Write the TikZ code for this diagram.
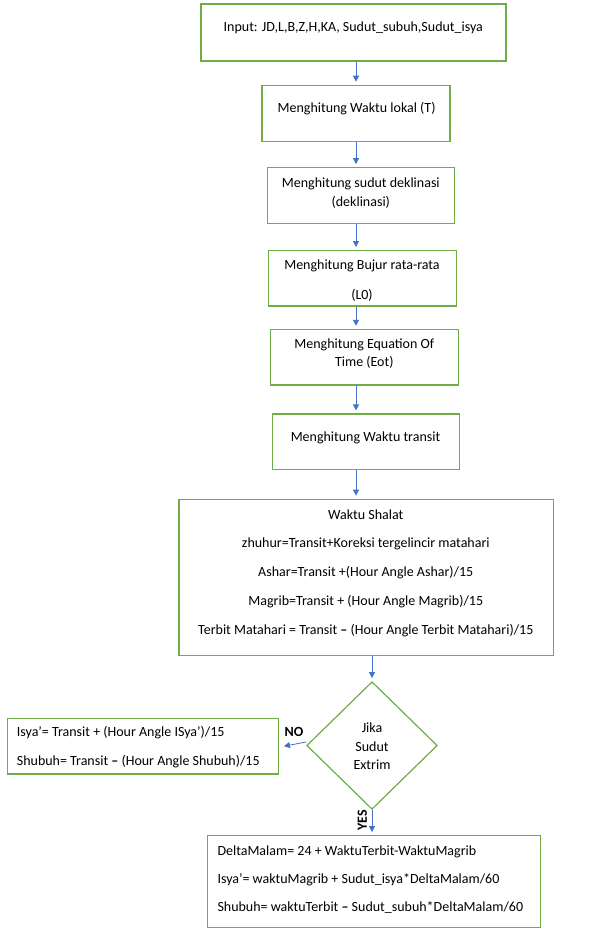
\documentclass[tikz,border=0pt]{standalone}
\usepackage{fontspec}
\setmainfont{Carlito}
\usetikzlibrary{shapes.geometric,arrows.meta}
\definecolor{boxgreen}{HTML}{70AD47}
\definecolor{arrowblue}{HTML}{4472C4}

\begin{document}
\begin{tikzpicture}[x=1pt,y=-1pt,
	box/.style={draw=boxgreen, line width=1.2pt, inner sep=0pt},
	txt/.style={anchor=base, inner sep=0pt, align=center, font=\fontsize{14}{#1}\selectfont},
	txt/.default=19,
	arr/.style={draw=arrowblue, line width=0.8pt, shorten >=3pt, -{Triangle[length=6pt,width=6pt]}}]
\fill[white] (0,0) rectangle (596,941);
\useasboundingbox (0,0) rectangle (596,941);
% boxes
\node [box, minimum width=305pt, minimum height=57pt] (a) at (353.5,32.5) {};
\node [box, minimum width=188pt, minimum height=56pt] (b) at (356,113.3) {};
\node [box, minimum width=187pt, minimum height=55.6pt] (c) at (360.8,195.5) {};
\node [box, minimum width=188.4pt, minimum height=55.3pt] (d) at (362.5,278.3) {};
\node [box, minimum width=187.6pt, minimum height=55.7pt] (e) at (364.5,357.2) {};
\node [box, minimum width=187pt, minimum height=55.3pt] (f) at (365.8,441.7) {};
\node [box, minimum width=374.3pt, minimum height=156.4pt] (g) at (366.2,577.5) {};
\node [box, diamond, minimum width=130.6pt, minimum height=127.6pt] (k) at (372,745.5) {};
\node [box, minimum width=271.4pt, minimum height=55.7pt] (i) at (143,746.2) {};
\node [box, minimum width=333.4pt, minimum height=91.6pt] (h) at (374,881.5) {};
% texts (base = last line)
\node [txt] (ta) at (353.3,31.7) {Input: JD,L,B,Z,H,KA, Sudut\_subuh,Sudut\_isya};
\node [txt] (tb) at (356.6,112.7) {Menghitung Waktu lokal (T)};
\node [txt=19] (tc) at (360.8,206.7) {Menghitung sudut deklinasi\\(deklinasi)};
\node [txt=29.7] (td) at (362,299) {Menghitung Bujur rata-rata\\(L0)};
\node [txt=18.4] (te) at (364.3,366.7) {Menghitung Equation Of\\Time (Eot)};
\node [txt] (tf) at (365.5,441) {Menghitung Waktu transit};
\node [txt=28.8] (tg) at (365.8,634.2) {Waktu Shalat\\zhuhur=Transit+Koreksi tergelincir matahari\\Ashar=Transit +(Hour Angle Ashar)/15\\Magrib=Transit + (Hour Angle Magrib)/15\\Terbit Matahari = Transit \textbf{--} (Hour Angle Terbit Matahari)/15};
\node [txt=18.3] (tk) at (372,769.3) {Jika\\Sudut\\Extrim};
\node [txt=28.3, anchor=base west, align=left] (ti) at (16.7,765) {Isya’= Transit + (Hour Angle ISya’)/15\\Shubuh= Transit \textbf{--} (Hour Angle Shubuh)/15};
\node [txt=28.3, anchor=base west, align=left] (th) at (217.3,911.7) {DeltaMalam= 24 + WaktuTerbit-WaktuMagrib\\Isya’= waktuMagrib + Sudut\_isya*DeltaMalam/60\\Shubuh= waktuTerbit \textbf{--} Sudut\_subuh*DeltaMalam/60};
\node [txt, font=\fontsize{14}{17}\bfseries] (no) at (294,736) {NO};
\node [txt, anchor=center, rotate=90, font=\fontsize{14}{17}\bfseries] (yes) at (362.3,820) {YES};
% arrows
\draw [arr] (a.south -| b.north) -- (b.north);
\draw [arr] (b.south) -- (b.south |- c.north);
\draw [arr] (c.south -| b.south) -- (d.north -| b.south);
\draw [arr] (d.south -| b.south) -- (e.north -| b.south);
\draw [arr] (e.south -| b.south) -- (f.north -| b.south);
\draw [arr] (f.south -| b.south) -- (g.north -| b.south);
\draw [arr] (g.south -| k.north) -- (k.north);
\draw [arr] (k.south) -- (k.south |- h.north);
\draw [arr, shorten >=0pt] ([yshift=3.5pt]k.west) -- ([xshift=4.6pt]i.east);
\end{tikzpicture}
\end{document}
